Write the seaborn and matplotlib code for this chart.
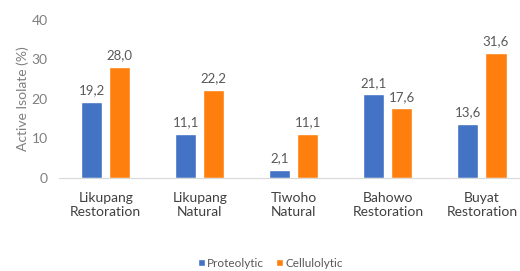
import matplotlib
matplotlib.use("Agg")
import matplotlib.pyplot as plt
import pandas as pd
import seaborn as sns

sites = ["Likupang\nRestoration", "Likupang\nNatural", "Tiwoho\nNatural",
         "Bahowo\nRestoration", "Buyat\nRestoration"]
proteolytic = [19.2, 11.1, 2.1, 21.1, 13.6]
cellulolytic = [28.0, 22.2, 11.1, 17.6, 31.6]

df = pd.DataFrame({
    "site": sites * 2,
    "value": proteolytic + cellulolytic,
    "activity": ["Proteolytic"] * len(sites) + ["Cellulolytic"] * len(sites),
})

sns.set_style("white")
plt.rcParams["font.family"] = ["Lato", "DejaVu Sans"]

fig = plt.figure(figsize=(5.2, 2.71), dpi=100)
ax = fig.add_axes([0.113, 0.343, 0.904, 0.585])

sns.barplot(ax=ax, data=df, x="site", y="value", hue="activity",
            palette=["#4472C4", "#FF7F0E"], width=0.6, gap=0.25,
            saturation=1, legend=True)

for c in ax.containers:
    ax.bar_label(c, labels=[f"{v:.1f}".replace(".", ",") for v in c.datavalues],
                 padding=4, fontsize=9.5, color="#595959")

ax.set_ylim(0, 40)
ax.set_yticks([0, 10, 20, 30, 40])
ax.set_xlim(-0.5, 4.5)
ax.set_xlabel("")
ax.set_ylabel("Active Isolate (%)", color="#7F7F7F", fontsize=10, labelpad=2)
ax.tick_params(axis="y", colors="#7F7F7F", labelsize=10, length=0, pad=8)
ax.tick_params(axis="x", colors="#404040", labelsize=10, length=0, pad=10)
for s in ["top", "right", "left"]:
    ax.spines[s].set_visible(False)
ax.spines["bottom"].set_color("#D9D9D9")

ax.legend(loc="lower center", bbox_to_anchor=(0.45, -0.64), ncol=2, frameon=False,
          fontsize=8.5, handlelength=0.6, handleheight=0.6, handletextpad=0.2,
          columnspacing=1.0, labelcolor="#595959")

fig.savefig("out.png", dpi=100)
